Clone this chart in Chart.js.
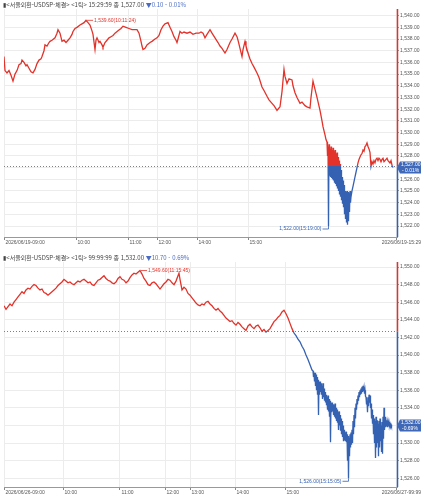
<!DOCTYPE html>
<html lang="ko">
<head>
<meta charset="UTF-8">
<title>서울외환 USDSP 체결 틱차트</title>
<script src="https://cdn.jsdelivr.net/npm/chart.js"></script>
<style>
  body { margin: 0; background: #fff; font-family: 'Noto Sans CJK KR', 'DejaVu Sans', sans-serif; }
  .panel { position: absolute; left: 0; width: 421px; height: 250px; }
  .panel canvas { position: absolute; left: 0; top: 0; }
  .head { position: absolute; left: 3px; z-index: 2; font-size: 6px; line-height: 1; color: #444; white-space: nowrap; }
  .head .chg { color: #4a6cc4; }
</style>
</head>
<body>
<div class="panel" style="top:0">
  <canvas id="chartTop" width="421" height="250"></canvas>
  <div class="head" style="top:2px">▮&lt;서울외환-USDSP-체결&gt; &lt;1틱&gt; 15:29:59 종 1,527.00 <span class="chg">▼0.10 - 0.01%</span></div>
</div>
<div class="panel" style="top:250px">
  <canvas id="chartBot" width="421" height="250"></canvas>
  <div class="head" style="top:5px">▮&lt;서울외환-USDSP-체결&gt; &lt;1틱&gt; 99:99:99 종 1,532.00 <span class="chg">▼10.70 - 0.69%</span></div>
</div>

<script>
// ---- top panel data (x = tick position, y = price) ----
const topTimeTicks = [4, 76, 128, 157, 197, 248, 396];
const topTimeLabels = ['2026/06/19-09:00', '10:00', '11:00', '12:00', '14:00', '15:00', '2026/06/19-15:29'];
const topPriceTicks = [1522, 1523, 1524, 1525, 1526, 1527, 1528, 1529, 1530, 1531, 1532, 1533, 1534, 1535, 1536, 1537, 1538, 1539, 1540];
const topPrevClose = 1527.10;
const topClose = 1527.00;
const topHighText = '1,539.60(10:11:24)';
const topLowText = '1,522.00(15:19:00)';
const topPre = [[4,1536.5],[5,1535.3],[7,1535.1],[9,1535.3],[11,1534.9],[13,1534.4],[15,1535.0],[17,1535.3],[19,1535.8],[21,1535.9],[22,1536.2],[24,1536.0],[26,1535.7],[27,1535.8],[29,1535.5],[31,1535.2],[33,1535.1],[35,1535.4],[37,1535.9],[39,1536.2],[41,1536.3],[42,1536.5],[44,1537.0],[45,1537.5],[47,1537.4],[49,1537.7],[50,1537.8],[52,1537.9],[55,1538.1],[57,1538.5],[58,1538.8],[60,1538.5],[62,1537.8],[64,1537.9],[66,1537.7],[68,1537.9],[70,1538.1],[72,1538.4],[73,1538.65],[75,1538.9],[77,1539.0],[80,1539.2],[82,1539.3],[84,1539.4],[86,1539.6],[88,1539.4],[90,1539.2],[92,1538.7],[93,1538.4],[95,1537.1],[96,1537.9],[97,1538.1],[99,1537.7],[100,1537.8],[102,1537.5],[103,1537.3],[105,1537.7],[107,1537.9],[109,1538.1],[111,1538.2],[113,1538.3],[115,1538.5],[118,1538.7],[121,1538.9],[123,1539.1],[126,1539.0],[129,1538.9],[132,1538.8],[135,1538.8],[137,1538.8],[139,1538.5],[141,1537.8],[142,1537.4],[143,1537.1],[145,1537.2],[147,1537.5],[150,1537.7],[152,1537.8],[155,1538.0],[157,1538.1],[159,1538.3],[161,1538.8],[163,1539.1],[165,1539.3],[168,1539.4],[170,1539.0],[172,1538.65],[174,1538.2],[176,1537.9],[177,1537.7],[178,1538.0],[180,1538.65],[182,1538.5],[184,1538.6],[187,1538.5],[190,1538.6],[193,1538.4],[196,1538.5],[199,1538.5],[201,1538.6],[203,1538.5],[205,1538.1],[207,1538.4],[210,1538.8],[212,1538.5],[215,1538.1],[218,1537.7],[220,1537.4],[222,1537.2],[225,1536.8],[227,1537.1],[230,1537.7],[232,1538.0],[235,1538.5],[237,1538.2],[238,1537.9],[240,1537.2],[242,1536.5],[243,1537.1],[245,1537.8],[246,1537.4],[248,1536.8],[250,1536.3],[252,1535.9],[254,1535.6],[257,1535.1],[259,1534.7],[262,1533.9],[264,1533.6],[267,1533.1],[269,1532.8],[272,1532.5],[274,1532.3],[277,1531.9],[279,1532.1],[280,1532.2],[282,1533.5],[284,1535.4],[285,1534.8],[287,1534.2],[289,1534.6],[292,1534.5],[293,1534.0],[295,1533.4],[297,1533.0],[300,1532.5],[302,1532.6],[305,1532.3],[307,1532.2],[310,1532.1],[311,1533.0],[313,1534.4],[315,1533.7],[317,1533.0],[320,1531.9],[322,1531.0],[323,1530.5],[325,1529.8],[326,1529.4]];
// dense bouncing zone: [x, high, low]
const topBand = [[327,1529.2,1528.0],[328,1528.8,1522.0],[329,1529.0,1526.3],[330,1528.6,1526.2],[331,1528.8,1526.1],[332,1528.5,1526.0],[333,1528.7,1525.9],[334,1528.4,1525.7],[335,1528.5,1525.6],[336,1528.2,1525.4],[337,1528.3,1525.2],[338,1527.9,1525.0],[339,1527.6,1524.7],[340,1527.3,1524.5],[341,1526.8,1524.2],[342,1526.2,1523.9],[343,1525.9,1523.6],[344,1525.5,1523.0],[345,1525.0,1522.6],[346,1524.9,1522.3],[347,1525.0,1522.1],[348,1524.9,1522.4],[349,1524.8,1523.2],[350,1525.0,1524.0]];
const topTail = [[351,1524.5],[352,1525.0],[353,1525.4],[354,1525.8],[355,1526.2],[356,1526.6],[357,1527.0],[358,1527.4],[359,1527.7],[360,1527.9],[361,1528.1],[362,1528.2],[363,1528.5],[364,1528.4],[365,1528.8],[366,1528.9],[367,1529.1],[368,1528.8],[369,1528.6],[370,1528.3],[371,1527.1],[372,1527.5],[373,1527.3],[374,1527.6],[375,1527.4],[376,1527.7],[377,1527.8],[378,1527.6],[379,1527.8],[380,1527.7],[381,1527.5],[382,1527.7],[383,1527.8],[384,1527.5],[385,1527.6],[386,1527.7],[387,1527.8],[388,1527.6],[389,1527.5],[390,1527.4],[391,1527.6],[392,1527.2],[393,1527.0]];

// ---- bottom panel data ----
const botTimeTicks = [4, 63, 120, 165, 190, 235, 285, 396];
const botTimeLabels = ['2026/06/26-09:00', '10:00', '11:00', '12:00', '13:00', '14:00', '15:00', '2026/06/27-99:99'];
const botPriceTicks = [1526, 1528, 1530, 1532, 1534, 1536, 1538, 1540, 1542, 1544, 1546, 1548, 1550];
const botPrevClose = 1542.70;
const botClose = 1532.00;
const botHighText = '1,549.60(11:15:45)';
const botLowText = '1,526.00(15:15:05)';
const botPre = [[4,1545.6],[6,1545.2],[8,1545.5],[10,1545.8],[12,1545.6],[14,1546.0],[16,1546.3],[18,1546.6],[20,1546.9],[22,1547.2],[24,1547.0],[26,1547.4],[28,1547.6],[30,1547.5],[32,1547.8],[34,1548.0],[36,1547.9],[38,1547.6],[40,1547.4],[42,1547.5],[44,1547.1],[46,1547.0],[48,1546.8],[50,1547.0],[52,1547.2],[54,1547.4],[56,1547.6],[58,1547.9],[60,1548.1],[62,1548.3],[64,1548.6],[66,1548.4],[68,1548.2],[70,1548.3],[72,1548.1],[74,1548.0],[76,1548.2],[78,1548.4],[80,1548.3],[82,1548.5],[84,1548.6],[86,1548.4],[88,1548.2],[90,1548.3],[92,1548.0],[94,1547.9],[96,1548.2],[98,1548.5],[100,1548.6],[102,1548.8],[104,1549.0],[106,1548.7],[108,1548.5],[110,1548.4],[112,1548.2],[114,1548.1],[116,1548.3],[118,1548.7],[120,1548.9],[122,1548.6],[124,1548.5],[126,1548.2],[128,1548.4],[130,1548.8],[132,1549.1],[134,1549.3],[136,1549.2],[138,1549.4],[140,1549.6],[142,1549.2],[144,1548.7],[146,1548.4],[148,1548.0],[150,1547.9],[152,1548.2],[154,1548.3],[156,1548.1],[158,1547.8],[160,1547.5],[162,1547.8],[164,1548.1],[166,1548.3],[168,1548.6],[170,1548.5],[172,1548.2],[174,1548.0],[176,1548.4],[178,1549.0],[179,1549.3],[180,1548.6],[182,1547.4],[184,1547.7],[186,1547.5],[188,1547.0],[190,1546.8],[192,1546.5],[194,1546.2],[196,1545.9],[198,1545.7],[200,1545.6],[202,1545.8],[204,1545.7],[206,1546.0],[208,1546.1],[210,1545.8],[212,1545.6],[214,1545.3],[216,1545.1],[218,1545.3],[220,1545.0],[222,1544.8],[224,1544.5],[226,1544.2],[228,1544.0],[230,1543.8],[232,1543.9],[234,1543.6],[236,1543.4],[238,1543.7],[240,1543.5],[242,1543.2],[244,1543.0],[246,1542.8],[248,1543.3],[250,1543.5],[252,1543.2],[254,1543.0],[256,1543.3],[258,1543.4],[260,1543.1],[262,1542.7],[264,1542.9],[266,1542.6],[268,1542.8],[270,1543.0],[272,1543.4],[274,1543.8],[276,1544.0],[278,1544.3],[280,1544.5],[282,1544.9],[284,1545.1],[286,1544.7],[288,1544.2],[290,1543.6],[292,1543.0],[294,1542.5],[296,1542.2],[298,1541.8],[300,1541.5],[302,1541.0],[304,1540.6],[306,1540.0],[308,1539.5],[310,1538.9],[312,1538.3]];
const botBand = [[313,1538.2,1537.5],[314,1538.0,1537.0],[315,1538.0,1536.5],[316,1537.8,1536.0],[317,1537.5,1535.5],[318,1537.2,1533.2],[319,1537.0,1535.5],[320,1537.0,1535.8],[321,1536.8,1535.5],[322,1536.5,1535.0],[323,1536.8,1535.2],[324,1536.2,1534.8],[325,1535.8,1534.6],[326,1535.5,1534.3],[327,1535.2,1533.8],[328,1535.4,1533.6],[329,1535.0,1533.0],[330,1534.8,1530.1],[331,1534.6,1533.5],[332,1534.6,1533.6],[333,1534.4,1533.2],[334,1534.3,1533.0],[335,1534.5,1532.8],[336,1534.0,1532.5],[337,1533.8,1532.3],[338,1533.5,1531.5],[339,1533.6,1532.0],[340,1533.2,1531.4],[341,1532.8,1531.0],[342,1532.5,1530.7],[343,1532.0,1530.2],[344,1531.5,1530.3],[345,1531.2,1530.2],[346,1531.3,1530.1],[347,1531.0,1528.0],[348,1530.8,1526.0],[349,1530.6,1528.5],[350,1531.0,1529.5],[351,1531.2,1529.8],[352,1531.5,1530.0],[353,1532.5,1531.0],[354,1533.2,1531.8],[355,1534.0,1532.8],[356,1534.5,1533.8],[357,1535.0,1534.4],[358,1535.4,1534.8],[359,1535.8,1535.2],[360,1536.0,1535.5],[361,1536.2,1535.6],[362,1536.4,1535.8],[363,1536.5,1535.9],[364,1536.3,1535.6],[365,1536.0,1535.3],[366,1535.2,1534.4],[367,1534.8,1533.5],[368,1535.2,1534.2],[369,1535.5,1534.6],[370,1535.4,1534.0],[371,1534.5,1532.8],[372,1533.8,1532.2],[373,1533.2,1531.0],[374,1532.8,1530.0],[375,1532.5,1528.3],[376,1533.0,1529.5],[377,1532.6,1530.0],[378,1532.2,1528.5],[379,1532.5,1529.5],[380,1532.8,1530.2],[381,1532.0,1529.0],[382,1532.4,1528.8],[383,1533.0,1530.5],[384,1534.0,1531.5],[385,1533.0,1531.8],[386,1532.6,1531.9],[387,1532.4,1531.8],[388,1532.3,1531.9],[389,1532.4,1532.0],[390,1532.2,1531.9],[391,1532.1,1531.9]];
const botTail = [[392,1532.0]];

const RED = '#e2322a';
const BLUE = '#3561b2';
const TICK_FONT = { size: 5, family: "'Liberation Sans', Arial, sans-serif" };

const fmt = v => v.toLocaleString('en-US', { minimumFractionDigits: 2, maximumFractionDigits: 2 });

function buildSeries(pre, band, tail) {
    const pts = pre.map(([x, y]) => ({ x, y }));
    band.forEach(([x, hi, lo]) => {
        pts.push({ x, y: hi });
        pts.push({ x: x + 0.5, y: lo });
    });
    tail.forEach(([x, y]) => pts.push({ x, y }));
    return pts;
}

// red above previous close, blue below
function splitStroke(chart, ref) {
    const { chartArea, scales } = chart;
    if (!chartArea) return RED;
    const yRef = scales.y.getPixelForValue(ref);
    let t = (yRef - chartArea.top) / (chartArea.bottom - chartArea.top);
    t = Math.min(1, Math.max(0, t));
    const g = chart.ctx.createLinearGradient(0, chartArea.top, 0, chartArea.bottom);
    g.addColorStop(0, RED);
    g.addColorStop(t, RED);
    g.addColorStop(t, BLUE);
    g.addColorStop(1, BLUE);
    return g;
}

function makeOverlay(p, pts) {
    return {
        id: 'overlay',
        beforeDatasetsDraw(chart) {
            const { ctx, chartArea: a, scales: { y } } = chart;
            const yr = Math.round(y.getPixelForValue(p.prevClose)) + 0.5;
            ctx.save();
            ctx.strokeStyle = '#808080';
            ctx.lineWidth = 1;
            ctx.setLineDash([1, 2]);
            ctx.beginPath();
            ctx.moveTo(a.left, yr);
            ctx.lineTo(a.right, yr);
            ctx.stroke();
            ctx.restore();
        },
        afterDraw(chart) {
            const { ctx, chartArea: a, scales: { x, y } } = chart;
            const yr = y.getPixelForValue(p.prevClose);
            const ax = a.right + 0.5;
            ctx.save();

            // right price axis, coloured by prev close
            ctx.lineWidth = 1.5;
            ctx.strokeStyle = RED;
            ctx.beginPath(); ctx.moveTo(ax, a.top); ctx.lineTo(ax, yr); ctx.stroke();
            ctx.strokeStyle = BLUE;
            ctx.beginPath(); ctx.moveTo(ax, yr); ctx.lineTo(ax, a.bottom); ctx.stroke();

            // last price box
            const yc = y.getPixelForValue(p.close);
            ctx.fillStyle = '#3f69b8';
            ctx.beginPath();
            ctx.moveTo(a.right, yc);
            ctx.lineTo(a.right + 3, yc - 6);
            ctx.lineTo(421, yc - 6);
            ctx.lineTo(421, yc + 6);
            ctx.lineTo(a.right + 3, yc + 6);
            ctx.closePath();
            ctx.fill();
            ctx.fillStyle = '#fff';
            ctx.font = "5px 'Liberation Sans', Arial, sans-serif";
            ctx.textAlign = 'left';
            ctx.textBaseline = 'middle';
            ctx.fillText(fmt(p.close), a.right + 4, yc - 2.6);
            ctx.fillText(p.pctText, a.right + 5, yc + 2.8);

            // high / low markers
            let hi = pts[0], lo = pts[0];
            pts.forEach(pt => { if (pt.y > hi.y) hi = pt; if (pt.y < lo.y) lo = pt; });
            ctx.lineWidth = 0.8;
            const hx = x.getPixelForValue(hi.x), hy = y.getPixelForValue(hi.y);
            ctx.strokeStyle = RED; ctx.fillStyle = RED;
            ctx.beginPath(); ctx.moveTo(hx + 1, hy); ctx.lineTo(hx + 7, hy); ctx.stroke();
            ctx.fillText(p.highText, hx + 8, hy);
            const lx = x.getPixelForValue(lo.x), ly = y.getPixelForValue(lo.y);
            ctx.strokeStyle = BLUE; ctx.fillStyle = BLUE;
            ctx.beginPath(); ctx.moveTo(lx, ly); ctx.lineTo(lx, ly + 3); ctx.lineTo(lx - 6, ly + 3); ctx.stroke();
            ctx.textAlign = 'right';
            ctx.fillText(p.lowText, lx - 7, ly + 3);

            // end-of-axis time label, right aligned
            ctx.fillStyle = '#555';
            ctx.textBaseline = 'top';
            ctx.fillText(p.timeLabels[p.timeLabels.length - 1], 421, a.bottom + 3.5);
            ctx.restore();
        }
    };
}

function drawPanel(id, p) {
    const pts = buildSeries(p.pre, p.band, p.tail);
    new Chart(document.getElementById(id), {
        type: 'line',
        data: {
            datasets: [{
                data: pts,
                borderColor: ctx => splitStroke(ctx.chart, p.prevClose),
                borderWidth: 1.3,
                pointRadius: 0,
                tension: 0
            }]
        },
        options: {
            responsive: false,
            animation: false,
            events: [],
            layout: { padding: { left: 4, top: p.padTop, right: 0, bottom: 0 } },
            plugins: { legend: { display: false }, tooltip: { enabled: false } },
            scales: {
                x: {
                    type: 'linear', min: 4, max: 397,
                    afterBuildTicks: s => { s.ticks = p.timeTicks.map(v => ({ value: v })); },
                    afterFit: s => { s.height = 13; },
                    grid: { color: '#ececec', tickColor: '#888', tickLength: 3 },
                    border: { color: '#999' },
                    ticks: {
                        autoSkip: false, maxRotation: 0, align: 'start', labelOffset: 1.5, padding: 0,
                        color: '#555', font: TICK_FONT,
                        callback: (v, i) => (i === p.timeLabels.length - 1 ? '' : p.timeLabels[i])
                    }
                },
                y: {
                    position: 'right', min: p.yMin, max: p.yMax,
                    afterBuildTicks: s => { s.ticks = p.priceTicks.map(v => ({ value: v })); },
                    afterFit: s => { s.width = 24; },
                    grid: { color: '#ececec', tickColor: '#999', tickLength: 2 },
                    border: { display: false },
                    ticks: {
                        padding: 1, color: '#555', font: TICK_FONT,
                        callback: v => (v === p.close ? '' : fmt(v))
                    }
                }
            }
        },
        plugins: [makeOverlay(p, pts)]
    });
}

drawPanel('chartTop', {
    pre: topPre, band: topBand, tail: topTail,
    timeTicks: topTimeTicks, timeLabels: topTimeLabels, priceTicks: topPriceTicks,
    prevClose: topPrevClose, close: topClose, pctText: '- 0.01%',
    highText: topHighText, lowText: topLowText,
    yMin: 1521.06, yMax: 1540.57, padTop: 9
});

drawPanel('chartBot', {
    pre: botPre, band: botBand, tail: botTail,
    timeTicks: botTimeTicks, timeLabels: botTimeLabels, priceTicks: botPriceTicks,
    prevClose: botPrevClose, close: botClose, pctText: '-0.69%',
    highText: botHighText, lowText: botLowText,
    yMin: 1525.01, yMax: 1550.57, padTop: 12
});
</script>
</body>
</html>
